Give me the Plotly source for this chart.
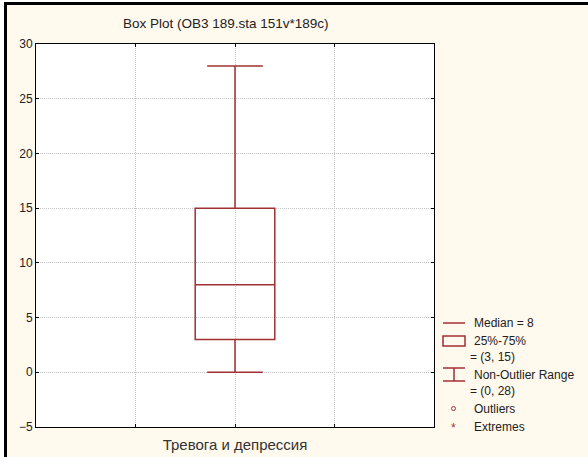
import plotly.graph_objects as go

# ---- data ----
categories = ["Тревога и депрессия"]
medians = [8]
q1s = [3]
q3s = [15]
lower_fences = [0]
upper_fences = [28]
title_text = "Box Plot (OB3 189.sta 151v*189c)"
legend_labels = ["Median = 8", "25%-75%", "= (3, 15)", "Non-Outlier Range", "= (0, 28)", "Outliers", "Extremes"]

W, H = 588, 457
L, R, T, B = 36, 434, 44, 427
RED = "#a03032"
BG = "#fff9ee"
TXT = "#222222"
FONT = "Liberation Sans, Arial"

def px(x):
    return (x - L) / (R - L)

def py(y):
    return (B - y) / (B - T)

positions = list(range(len(categories)))

fig = go.Figure()
fig.add_trace(go.Box(
    x=positions,
    q1=q1s, median=medians, q3=q3s,
    lowerfence=lower_fences, upperfence=upper_fences,
    width=0.8, whiskerwidth=0.7,
    line=dict(color=RED, width=1.5),
    fillcolor="rgba(255,255,255,0)",
    boxpoints=False, showlegend=False, hoverinfo="skip",
))

shapes = []
annotations = []

# legend (custom)
lc = dict(color=RED, width=1.5)
shapes.append(dict(type="line", xref="paper", yref="paper", x0=px(443), x1=px(465), y0=py(323), y1=py(323), line=lc))
shapes.append(dict(type="rect", xref="paper", yref="paper", x0=px(443), x1=px(465), y0=py(336), y1=py(346), line=lc))
shapes.append(dict(type="line", xref="paper", yref="paper", x0=px(443), x1=px(465), y0=py(368), y1=py(368), line=lc))
shapes.append(dict(type="line", xref="paper", yref="paper", x0=px(454), x1=px(454), y0=py(368), y1=py(381), line=lc))
shapes.append(dict(type="line", xref="paper", yref="paper", x0=px(443), x1=px(465), y0=py(381), y1=py(381), line=lc))
shapes.append(dict(type="circle", xref="paper", yref="paper", x0=px(451.5), x1=px(455.5), y0=py(406.5), y1=py(410.5), line=dict(color=RED, width=1)))

legend_pos = [(472, 323), (472, 341), (468, 357), (472, 375), (468, 391), (472, 409), (472, 427)]
for txt, (x, y) in zip(legend_labels, legend_pos):
    annotations.append(dict(text=txt, xref="paper", yref="paper", x=px(x), y=py(y),
                            xanchor="left", yanchor="middle", showarrow=False,
                            font=dict(family=FONT, size=12, color=TXT)))
annotations.append(dict(text="*", xref="paper", yref="paper", x=px(453.5), y=py(428),
                        xanchor="center", yanchor="middle", showarrow=False,
                        font=dict(family=FONT, size=12, color=RED)))

# title
annotations.append(dict(text=title_text, xref="paper", yref="paper", x=px(226), y=py(23),
                        xanchor="center", yanchor="middle", showarrow=False,
                        font=dict(family=FONT, size=13.5, color=TXT)))

# outer window frame (top & left black borders)
shapes.append(dict(type="rect", xref="paper", yref="paper", x0=px(-5), x1=px(4), y0=py(470), y1=py(-5),
                   fillcolor="white", line=dict(width=0), layer="above"))
shapes.append(dict(type="rect", xref="paper", yref="paper", x0=px(-5), x1=px(600), y0=py(2), y1=py(-5),
                   fillcolor="white", line=dict(width=0), layer="above"))
shapes.append(dict(type="line", xref="paper", yref="paper", x0=px(5.5), x1=px(600), y0=py(3.5), y1=py(3.5),
                   line=dict(color="black", width=3), layer="above"))
shapes.append(dict(type="line", xref="paper", yref="paper", x0=px(5.5), x1=px(5.5), y0=py(2), y1=py(470),
                   line=dict(color="black", width=3), layer="above"))

tickvals = [-1] + positions + [len(categories)]
ticktext = [""] + categories + [""]

grid = dict(showgrid=True, gridcolor="#c4c4c4", griddash="1px,1px", gridwidth=1,
            ticks="inside", ticklen=3, tickcolor="black", automargin=False,
            showline=True, linecolor="black", linewidth=1, mirror="ticks", zeroline=False)

fig.update_layout(
    width=W, height=H,
    margin=dict(l=L, r=W - R, t=T, b=H - B, pad=0, autoexpand=False),
    paper_bgcolor=BG, plot_bgcolor="white",
    showlegend=False,
    shapes=shapes, annotations=annotations,
    xaxis=dict(range=[-2, len(categories) + 1], tickvals=tickvals, ticktext=ticktext,
               ticklabelstandoff=4,
               tickfont=dict(family=FONT, size=15, color="#333333"), **grid),
    yaxis=dict(range=[-5, 30], dtick=5, tick0=0,
               tickfont=dict(family=FONT, size=12, color=TXT), **grid),
)

fig.write_html("out.html", config={"displayModeBar": False},
               post_script="document.body.style.margin='0';document.body.style.overflow='hidden';")
